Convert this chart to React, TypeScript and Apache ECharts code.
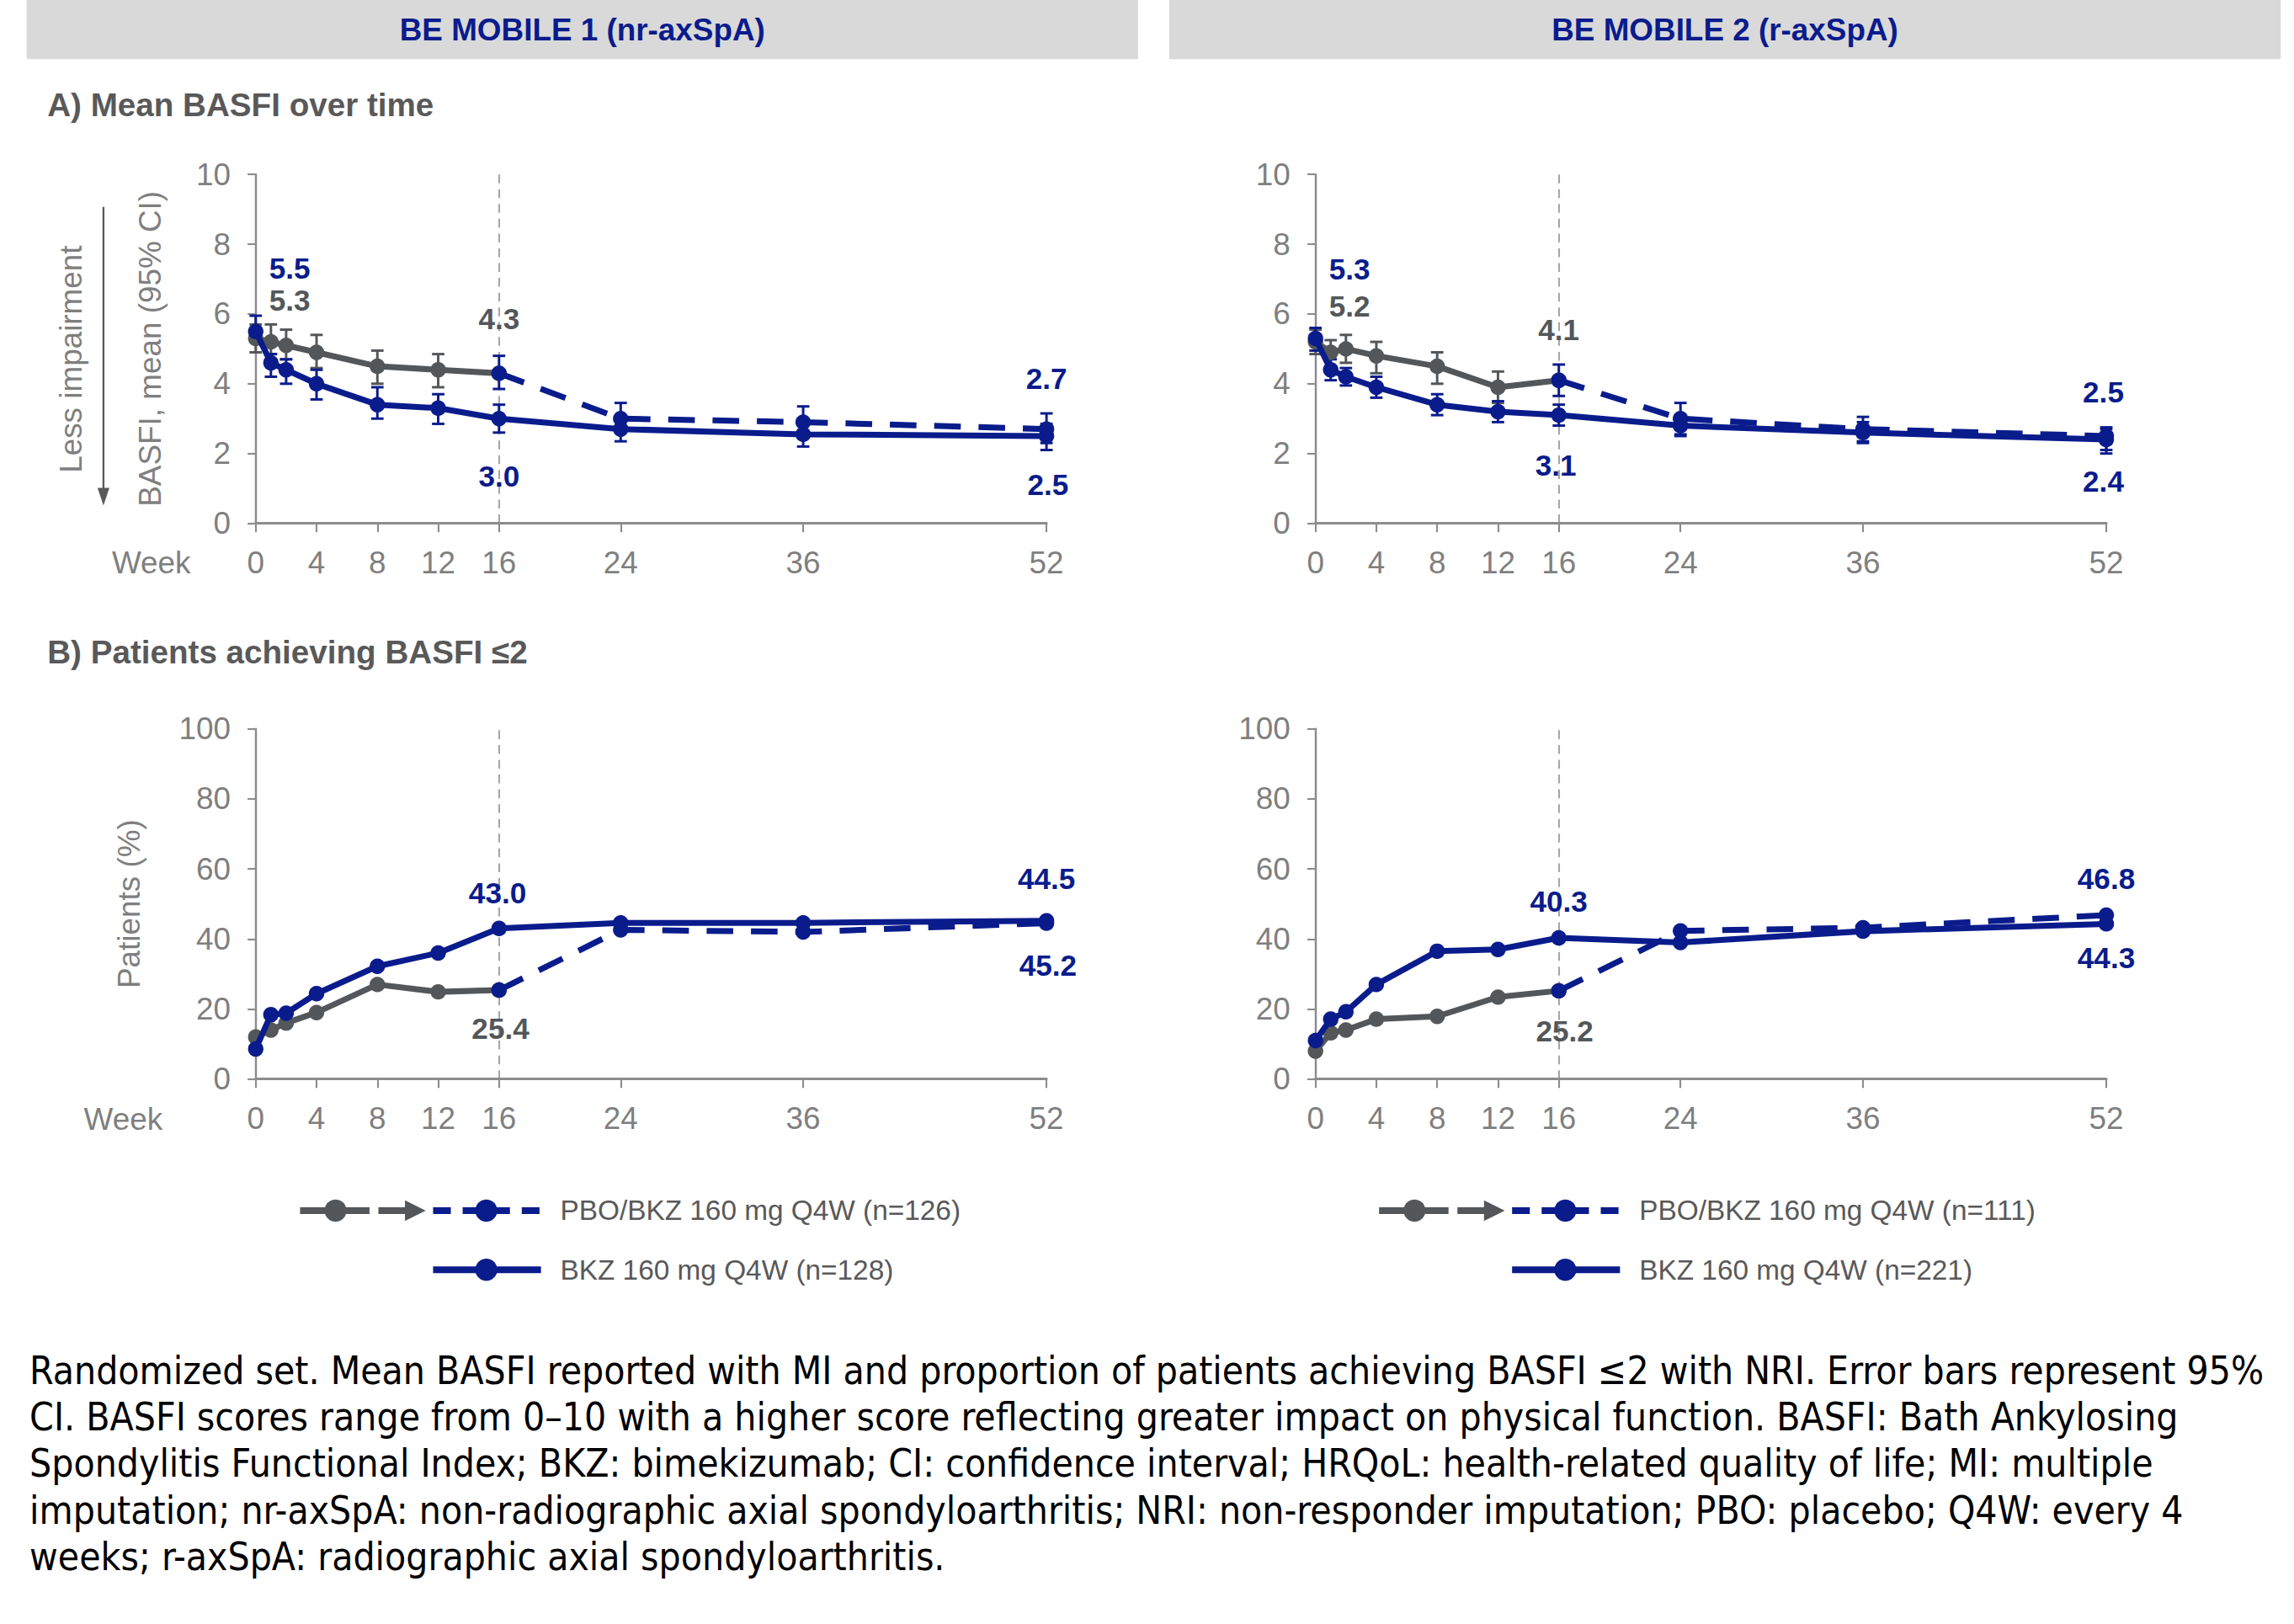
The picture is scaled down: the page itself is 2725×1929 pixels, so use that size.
import React, { useEffect, useRef } from "react";
import * as echarts from "echarts";

// ---------- data ----------
const X_TICKS = [0, 4, 8, 12, 16, 24, 36, 52];
const WEEKS = [0, 1, 2, 4, 8, 12, 16, 24, 36, 52];
const WEEKS_PRE = [0, 1, 2, 4, 8, 12, 16];
const WEEKS_PRE_CI = [0, 1, 2, 4, 8, 12];
const WEEKS_POST = [16, 24, 36, 52];

// A) Mean BASFI – BE MOBILE 1 (nr-axSpA)
const A1_PBO_PRE = [5.3, 5.2, 5.1, 4.9, 4.5, 4.4, 4.3];
const A1_PBO_PRE_LO = [4.9, 4.85, 4.7, 4.45, 4.0, 3.9];
const A1_PBO_PRE_HI = [5.7, 5.7, 5.55, 5.4, 4.95, 4.85];
const A1_PBO_POST = [4.3, 3.0, 2.9, 2.7];
const A1_PBO_POST_LO = [3.85, 2.6, 2.45, 2.3];
const A1_PBO_POST_HI = [4.8, 3.45, 3.35, 3.15];
const A1_BKZ = [5.5, 4.6, 4.4, 4.0, 3.4, 3.3, 3.0, 2.7, 2.55, 2.5];
const A1_BKZ_LO = [5.2, 4.2, 4.0, 3.55, 3.0, 2.85, 2.6, 2.35, 2.2, 2.1];
const A1_BKZ_HI = [5.95, 4.85, 4.7, 4.4, 3.9, 3.7, 3.4, 3.05, 2.9, 2.85];

// A) Mean BASFI – BE MOBILE 2 (r-axSpA)
const A2_PBO_PRE = [5.2, 4.9, 5.0, 4.8, 4.5, 3.9, 4.1];
const A2_PBO_PRE_LO = [4.85, 4.5, 4.6, 4.3, 4.0, 3.45];
const A2_PBO_PRE_HI = [5.55, 5.25, 5.4, 5.2, 4.9, 4.35];
const A2_PBO_POST = [4.1, 3.0, 2.7, 2.5];
const A2_PBO_POST_LO = [3.65, 2.55, 2.3, 2.0];
const A2_PBO_POST_HI = [4.55, 3.45, 3.05, 2.75];
const A2_BKZ = [5.3, 4.4, 4.2, 3.9, 3.4, 3.2, 3.1, 2.8, 2.6, 2.4];
const A2_BKZ_LO = [4.95, 4.1, 3.95, 3.6, 3.1, 2.9, 2.8, 2.5, 2.35, 2.1];
const A2_BKZ_HI = [5.6, 4.7, 4.45, 4.2, 3.7, 3.5, 3.4, 3.1, 2.9, 2.7];

// B) Patients achieving BASFI <=2 (%)
const B1_PBO_PRE = [12.0, 14.0, 16.0, 19.0, 27.0, 24.9, 25.4];
const B1_PBO_POST = [25.4, 42.6, 42.0, 44.5];
const B1_BKZ = [8.6, 18.4, 18.8, 24.4, 32.2, 36.0, 43.0, 44.6, 44.6, 45.2];

const B2_PBO_PRE = [8.0, 13.2, 14.0, 17.1, 17.9, 23.4, 25.2];
const B2_PBO_POST = [25.2, 42.3, 43.2, 46.8];
const B2_BKZ = [11.0, 17.1, 19.2, 27.0, 36.5, 37.0, 40.3, 39.0, 42.2, 44.3];

const HEADERS = ["BE MOBILE 1 (nr-axSpA)", "BE MOBILE 2 (r-axSpA)"];
const LEGEND_PBO = ["PBO/BKZ 160 mg Q4W (n=126)", "PBO/BKZ 160 mg Q4W (n=111)"];
const LEGEND_BKZ = ["BKZ 160 mg Q4W (n=128)", "BKZ 160 mg Q4W (n=221)"];
const FOOTNOTE = [
  "Randomized set. Mean BASFI reported with MI and proportion of patients achieving BASFI ≤2 with NRI. Error bars represent 95%",
  "CI. BASFI scores range from 0–10 with a higher score reflecting greater impact on physical function. BASFI: Bath Ankylosing",
  "Spondylitis Functional Index; BKZ: bimekizumab; CI: confidence interval; HRQoL: health-related quality of life; MI: multiple",
  "imputation; nr-axSpA: non-radiographic axial spondyloarthritis; NRI: non-responder imputation; PBO: placebo; Q4W: every 4",
  "weeks; r-axSpA: radiographic axial spondyloarthritis.",
];

// ---------- styling ----------
const W = 2725;
const H = 1929;
const S = W / 1552;
const p = (v: number) => v * S;
const NAVY = "#0a1c8c";
const DARK = "#54575a";
const GRAY = "#595959";
const LIGHT = "#7f7f7f";
const AXIS = "#8c8c8c";
const FONT = "'Liberation Sans', Arial, Helvetica, sans-serif";
const FOOT_FONT = "'DejaVu Sans Condensed', 'DejaVu Sans', Verdana, sans-serif";

type Lbl = { s: "pre" | "post" | "bkz"; i: number; dx: number; dy: number; c: string };

const panels = [
  {
    left: 173, top: 118, h: 236, yMax: 10, yInt: 2,
    yName: "BASFI, mean (95% CI)", nameGap: 61,
    pre: A1_PBO_PRE, post: A1_PBO_POST, bkz: A1_BKZ,
    preCI: [A1_PBO_PRE_LO, A1_PBO_PRE_HI], postCI: [A1_PBO_POST_LO, A1_PBO_POST_HI], bkzCI: [A1_BKZ_LO, A1_BKZ_HI],
    labels: [
      { s: "bkz", i: 0, dx: 23, dy: -43, c: NAVY },
      { s: "pre", i: 0, dx: 23, dy: -26, c: DARK },
      { s: "pre", i: 6, dx: 0, dy: -37, c: DARK },
      { s: "bkz", i: 6, dx: 0, dy: 39, c: NAVY },
      { s: "post", i: 3, dx: 0, dy: -34, c: NAVY },
      { s: "bkz", i: 9, dx: 1, dy: 33, c: NAVY },
    ] as Lbl[],
  },
  {
    left: 890, top: 118, h: 236, yMax: 10, yInt: 2,
    yName: "", nameGap: 0,
    pre: A2_PBO_PRE, post: A2_PBO_POST, bkz: A2_BKZ,
    preCI: [A2_PBO_PRE_LO, A2_PBO_PRE_HI], postCI: [A2_PBO_POST_LO, A2_PBO_POST_HI], bkzCI: [A2_BKZ_LO, A2_BKZ_HI],
    labels: [
      { s: "bkz", i: 0, dx: 23, dy: -47, c: NAVY },
      { s: "pre", i: 0, dx: 23, dy: -24, c: DARK },
      { s: "pre", i: 6, dx: 0, dy: -34, c: DARK },
      { s: "bkz", i: 6, dx: -2, dy: 34, c: NAVY },
      { s: "post", i: 3, dx: -2, dy: -30, c: NAVY },
      { s: "bkz", i: 9, dx: -2, dy: 28, c: NAVY },
    ] as Lbl[],
  },
  {
    left: 173, top: 493, h: 237, yMax: 100, yInt: 20,
    yName: "Patients (%)", nameGap: 75,
    pre: B1_PBO_PRE, post: B1_PBO_POST, bkz: B1_BKZ,
    preCI: null, postCI: null, bkzCI: null,
    labels: [
      { s: "bkz", i: 6, dx: -1, dy: -24, c: NAVY },
      { s: "pre", i: 6, dx: 1, dy: 26, c: DARK },
      { s: "post", i: 3, dx: 0, dy: -30, c: NAVY },
      { s: "bkz", i: 9, dx: 1, dy: 30, c: NAVY },
    ] as Lbl[],
  },
  {
    left: 890, top: 493, h: 237, yMax: 100, yInt: 20,
    yName: "", nameGap: 0,
    pre: B2_PBO_PRE, post: B2_PBO_POST, bkz: B2_BKZ,
    preCI: null, postCI: null, bkzCI: null,
    labels: [
      { s: "bkz", i: 6, dx: 0, dy: -25, c: NAVY },
      { s: "pre", i: 6, dx: 4, dy: 27, c: DARK },
      { s: "post", i: 3, dx: 0, dy: -25, c: NAVY },
      { s: "bkz", i: 9, dx: 0, dy: 23, c: NAVY },
    ] as Lbl[],
  },
];

function mkData(weeks: number[], vals: number[], labels: Lbl[], s: string) {
  return weeks.map((w, k) => {
    const l = labels.find((q) => q.s === s && q.i === k);
    if (!l) return [w, vals[k]];
    return {
      value: [w, vals[k]],
      label: {
        show: true,
        position: "inside",
        offset: [p(l.dx), p(l.dy)],
        color: l.c,
        fontSize: p(20),
        fontWeight: "bold",
        fontFamily: FONT,
        textBorderWidth: 0,
        formatter: (prm: any) => Number(prm.value[1]).toFixed(1),
      },
    };
  });
}

function errSeries(idx: number, weeks: number[], lo: number[], hi: number[], color: string) {
  return {
    type: "custom",
    xAxisIndex: idx,
    yAxisIndex: idx,
    clip: false,
    silent: true,
    z: 1,
    data: weeks.map((w, k) => [w, lo[k], hi[k]]),
    encode: { x: 0, y: [1, 2] },
    renderItem: (_params: any, api: any) => {
      const x = api.value(0);
      const a = api.coord([x, api.value(1)]);
      const b = api.coord([x, api.value(2)]);
      const hw = p(4.2);
      const style = { stroke: color, lineWidth: p(1.7) };
      return {
        type: "group",
        children: [
          { type: "line", shape: { x1: a[0], y1: a[1], x2: b[0], y2: b[1] }, style },
          { type: "line", shape: { x1: a[0] - hw, y1: a[1], x2: a[0] + hw, y2: a[1] }, style },
          { type: "line", shape: { x1: b[0] - hw, y1: b[1], x2: b[0] + hw, y2: b[1] }, style },
        ],
      };
    },
  };
}

function buildOption(footSize: number) {
  const grid = panels.map((pn) => ({
    left: p(pn.left),
    top: p(pn.top),
    width: p(535),
    height: p(pn.h),
    containLabel: false,
  }));
  const xAxis = panels.map((_, i) => ({
    gridIndex: i,
    type: "value",
    min: 0,
    max: 52,
    axisLine: { show: true, onZero: false, lineStyle: { color: AXIS, width: p(1.8) } },
    axisTick: { show: true, customValues: X_TICKS, length: p(6), lineStyle: { color: AXIS, width: p(1.2) } },
    axisLabel: { customValues: X_TICKS, color: LIGHT, fontSize: p(21), fontFamily: FONT, margin: p(16) },
    splitLine: { show: false },
  }));
  const yAxis = panels.map((pn, i) => ({
    gridIndex: i,
    type: "value",
    min: 0,
    max: pn.yMax,
    interval: pn.yInt,
    axisLine: { show: true, lineStyle: { color: AXIS, width: p(1.4) } },
    axisTick: { show: true, length: p(5.5), lineStyle: { color: AXIS, width: p(1.2) } },
    axisLabel: { color: LIGHT, fontSize: p(21), fontFamily: FONT, margin: p(17) },
    splitLine: { show: false },
    name: pn.yName,
    nameLocation: "middle",
    nameGap: p(pn.nameGap),
    nameTextStyle: { color: LIGHT, fontSize: p(21), fontFamily: FONT },
  }));

  const series: any[] = [];
  panels.forEach((pn, i) => {
    if (pn.preCI) series.push(errSeries(i, WEEKS_PRE_CI, pn.preCI[0], pn.preCI[1], DARK));
    if (pn.postCI) series.push(errSeries(i, WEEKS_POST, pn.postCI[0], pn.postCI[1], NAVY));
    if (pn.bkzCI) series.push(errSeries(i, WEEKS, pn.bkzCI[0], pn.bkzCI[1], NAVY));
    series.push({
      type: "line",
      name: "PBO",
      xAxisIndex: i,
      yAxisIndex: i,
      clip: false,
      z: 2,
      data: mkData(WEEKS_PRE, pn.pre, pn.labels, "pre"),
      symbol: "circle",
      symbolSize: p(10.5),
      itemStyle: { color: DARK },
      lineStyle: { color: DARK, width: p(4) },
    });
    series.push({
      type: "line",
      name: "PBO/BKZ",
      xAxisIndex: i,
      yAxisIndex: i,
      clip: false,
      z: 3,
      data: mkData(WEEKS_POST, pn.post, pn.labels, "post"),
      symbol: "circle",
      symbolSize: p(10.5),
      itemStyle: { color: NAVY },
      lineStyle: { color: NAVY, width: p(4), type: [p(18), p(12)] },
    });
    series.push({
      type: "line",
      name: "BKZ",
      xAxisIndex: i,
      yAxisIndex: i,
      clip: false,
      z: 4,
      data: mkData(WEEKS, pn.bkz, pn.labels, "bkz"),
      symbol: "circle",
      symbolSize: p(10.5),
      itemStyle: { color: NAVY },
      lineStyle: { color: NAVY, width: p(4) },
      markLine: {
        silent: true,
        symbol: ["none", "none"],
        label: { show: false },
        lineStyle: { color: "#a6a6a6", width: p(1.2), type: [p(6), p(4)] },
        data: [{ xAxis: 16 }],
        z: 0,
      },
    });
  });

  const txt = (x: number, y: number, text: string, o: any = {}) => ({
    type: "text",
    x: p(x),
    y: p(y),
    rotation: o.rotation || 0,
    silent: true,
    style: {
      text,
      fill: o.fill || GRAY,
      fontSize: o.fontSize || p(21),
      fontWeight: o.fontWeight || "normal",
      fontFamily: o.fontFamily || FONT,
      align: o.align || "left",
      textAlign: o.align || "left",
      verticalAlign: "middle",
      textVerticalAlign: "middle",
    },
  });

  const graphic: any[] = [];
  // header bars
  [18, 791].forEach((x, k) => {
    graphic.push({ type: "rect", silent: true, shape: { x: p(x), y: 0, width: p(752), height: p(40) }, style: { fill: "#d9d9d9" } });
    graphic.push(txt(x + 376, 20, HEADERS[k], { fill: NAVY, fontWeight: "bold", align: "center" }));
  });
  graphic.push(txt(32, 71, "A) Mean BASFI over time", { fontWeight: "bold", fontSize: p(22) }));
  graphic.push(txt(32, 441, "B) Patients achieving BASFI ≤2", { fontWeight: "bold", fontSize: p(22) }));
  graphic.push(txt(129, 381, "Week", { align: "right", fill: LIGHT }));
  graphic.push(txt(110, 757, "Week", { align: "right", fill: LIGHT }));
  graphic.push(txt(48, 243, "Less impairment", { rotation: Math.PI / 2, align: "center", fill: LIGHT }));
  graphic.push({ type: "line", silent: true, shape: { x1: p(70), y1: p(140), x2: p(70), y2: p(332) }, style: { stroke: GRAY, lineWidth: p(1.3) } });
  graphic.push({ type: "polygon", silent: true, shape: { points: [[p(66), p(330)], [p(74), p(330)], [p(70), p(342)]] }, style: { fill: GRAY } });

  // legends
  [0, 730].forEach((ox, k) => {
    const y1 = 819;
    const y2 = 859;
    const lw = p(4.5);
    graphic.push({ type: "line", silent: true, shape: { x1: p(203 + ox), y1: p(y1), x2: p(250 + ox), y2: p(y1) }, style: { stroke: DARK, lineWidth: lw } });
    graphic.push({ type: "circle", silent: true, shape: { cx: p(227 + ox), cy: p(y1), r: p(7.5) }, style: { fill: DARK } });
    graphic.push({ type: "line", silent: true, shape: { x1: p(256 + ox), y1: p(y1), x2: p(276 + ox), y2: p(y1) }, style: { stroke: DARK, lineWidth: lw } });
    graphic.push({ type: "polygon", silent: true, shape: { points: [[p(274 + ox), p(y1 - 7)], [p(288 + ox), p(y1)], [p(274 + ox), p(y1 + 7)]] }, style: { fill: DARK } });
    graphic.push({ type: "line", silent: true, shape: { x1: p(293 + ox), y1: p(y1), x2: p(366 + ox), y2: p(y1) }, style: { stroke: NAVY, lineWidth: lw, lineDash: [p(12), p(8)] } });
    graphic.push({ type: "circle", silent: true, shape: { cx: p(329 + ox), cy: p(y1), r: p(7.5) }, style: { fill: NAVY } });
    graphic.push(txt(379 + ox, y1, LEGEND_PBO[k], { fontSize: p(19) }));
    graphic.push({ type: "line", silent: true, shape: { x1: p(293 + ox), y1: p(y2), x2: p(366 + ox), y2: p(y2) }, style: { stroke: NAVY, lineWidth: lw } });
    graphic.push({ type: "circle", silent: true, shape: { cx: p(329 + ox), cy: p(y2), r: p(7.5) }, style: { fill: NAVY } });
    graphic.push(txt(379 + ox, y2, LEGEND_BKZ[k], { fontSize: p(19) }));
  });

  // footnote
  FOOTNOTE.forEach((line, k) => {
    graphic.push(txt(20, 927 + k * 31.5, line, { fill: "#000000", fontSize: footSize, fontFamily: FOOT_FONT }));
  });

  return {
    animation: false,
    backgroundColor: "#ffffff",
    grid,
    xAxis,
    yAxis,
    series,
    graphic,
  };
}

export default function App() {
  const ref = useRef<HTMLDivElement>(null);
  useEffect(() => {
    document.body.style.margin = "0";
    if (!ref.current) return;
    // fit the footnote's first line to the original width
    let footSize = p(23.5);
    try {
      const ctx = document.createElement("canvas").getContext("2d");
      if (ctx) {
        ctx.font = `100px ${FOOT_FONT}`;
        const w = ctx.measureText(FOOTNOTE[0]).width;
        if (w > 0) footSize = Math.min(p(28), (100 * p(1512)) / w);
      }
    } catch (e) {}
    const chart = echarts.init(ref.current, null, { renderer: "svg", width: W, height: H });
    chart.setOption(buildOption(footSize) as any);
    return () => chart.dispose();
  }, []);
  return <div ref={ref} style={{ width: W, height: H, background: "#fff" }} />;
}
